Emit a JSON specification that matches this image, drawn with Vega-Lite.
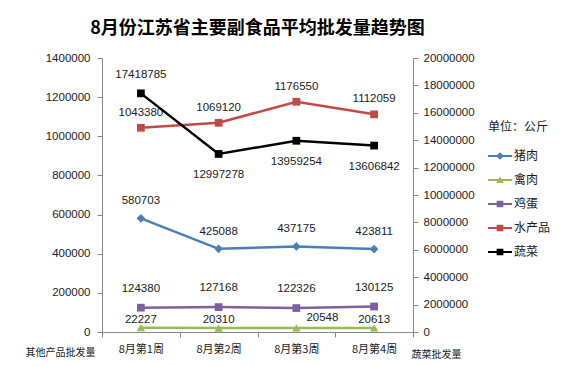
{
  "$schema": "https://vega.github.io/schema/vega-lite/v6.json",
  "width": 311,
  "height": 274,
  "autosize": "none",
  "padding": {"left": 102, "top": 58, "right": 154, "bottom": 34},
  "background": "white",
  "title": {"text": "8月份江苏省主要副食品平均批发量趋势图", "font": "Noto Sans CJK SC", "fontSize": 18, "fontWeight": "bold", "color": "#000000", "anchor": "middle", "offset": 14},
  "datasets": {
    "d": [
      {"week": "8月第1周", "series": "猪肉", "value": 580703},
      {"week": "8月第2周", "series": "猪肉", "value": 425088},
      {"week": "8月第3周", "series": "猪肉", "value": 437175},
      {"week": "8月第4周", "series": "猪肉", "value": 423811},
      {"week": "8月第1周", "series": "禽肉", "value": 22227},
      {"week": "8月第2周", "series": "禽肉", "value": 20310},
      {"week": "8月第3周", "series": "禽肉", "value": 20548},
      {"week": "8月第4周", "series": "禽肉", "value": 20613},
      {"week": "8月第1周", "series": "鸡蛋", "value": 124380},
      {"week": "8月第2周", "series": "鸡蛋", "value": 127168},
      {"week": "8月第3周", "series": "鸡蛋", "value": 122326},
      {"week": "8月第4周", "series": "鸡蛋", "value": 130125},
      {"week": "8月第1周", "series": "水产品", "value": 1043380},
      {"week": "8月第2周", "series": "水产品", "value": 1069120},
      {"week": "8月第3周", "series": "水产品", "value": 1176550},
      {"week": "8月第4周", "series": "水产品", "value": 1112059},
      {"week": "8月第1周", "series": "蔬菜", "value": 17418785},
      {"week": "8月第2周", "series": "蔬菜", "value": 12997278},
      {"week": "8月第3周", "series": "蔬菜", "value": 13959254},
      {"week": "8月第4周", "series": "蔬菜", "value": 13606842}
    ]
  },
  "data": {"name": "d"},
  "config": {
    "view": {"stroke": null},
    "axis": {"grid": false, "domainColor": "#868686", "tickColor": "#868686", "domainWidth": 1, "tickSize": 5, "labelFont": "Liberation Sans", "labelFontSize": 11.5, "labelColor": "#1a1a1a", "titleFont": "Noto Sans CJK SC", "titleFontSize": 10, "titleFontWeight": "normal", "titleColor": "#1a1a1a"},
    "legend": {"orient": "none", "legendX": 386, "legendY": 64, "symbolSize": 576, "symbolOpacity": 1, "symbolStrokeWidth": 0,
               "labelFont": "Noto Sans CJK SC", "labelFontSize": 12, "labelColor": "#1a1a1a", "labelOffset": 2,
               "titleFont": "Noto Sans CJK SC", "titleFontSize": 12, "titleFontWeight": "normal", "titleColor": "#1a1a1a", "titlePadding": 10, "rowPadding": 6},
    "text": {"font": "Liberation Sans", "fontSize": 11.5, "color": "#1a1a1a", "baseline": "middle", "align": "center"}
  },
  "layer": [
    {
      "transform": [{"filter": "datum.series !== '蔬菜'"}],
      "encoding": {
        "x": {"field": "week", "type": "nominal", "sort": null, "scale": {"type": "band", "paddingInner": 0, "paddingOuter": 0},
              "axis": {"title": null, "labelAngle": 0, "tickBand": "extent", "labelPadding": 6, "labelFont": "Noto Sans CJK SC", "labelFontSize": 11}},
        "y": {"field": "value", "type": "quantitative", "scale": {"domain": [0, 1400000], "nice": false},
              "axis": {"values": [0, 200000, 400000, 600000, 800000, 1000000, 1200000, 1400000], "format": "d", "labelPadding": 7,
                       "title": "其他产品批发量", "titleAngle": 0, "titleX": -42, "titleY": 294, "titleAlign": "center", "titleBaseline": "middle"}},
        "color": {"field": "series", "type": "nominal", "title": "单位：公斤",
                  "scale": {"domain": ["猪肉", "禽肉", "鸡蛋", "水产品", "蔬菜"], "range": ["#4a7ebb", "#98b954", "#7d60a0", "#be4b48", "#000000"]}}
      },
      "layer": [
        {"mark": {"type": "line", "strokeWidth": 2.5}},
        {"transform": [{"filter": "datum.series === '猪肉'"}], "mark": {"type": "point", "shape": "diamond", "filled": true, "opacity": 1, "size": 75}},
        {"transform": [{"filter": "datum.series === '禽肉'"}], "mark": {"type": "point", "shape": "triangle-up", "filled": true, "opacity": 1, "size": 70}},
        {"transform": [{"filter": "datum.series === '鸡蛋' || datum.series === '水产品'"}], "mark": {"type": "point", "shape": "square", "filled": true, "opacity": 1, "size": 60}},
        {"transform": [{"filter": "datum.series === '猪肉'"}], "mark": {"type": "text", "dy": -17}, "encoding": {"text": {"field": "value", "type": "quantitative", "format": "d"}, "color": {"value": "#1a1a1a"}}},
        {"transform": [{"filter": "datum.series === '水产品'"}], "mark": {"type": "text", "dy": -15}, "encoding": {"text": {"field": "value", "type": "quantitative", "format": "d"}, "color": {"value": "#1a1a1a"}}},
        {"transform": [{"filter": "datum.series === '鸡蛋'"}], "mark": {"type": "text", "dy": -19}, "encoding": {"text": {"field": "value", "type": "quantitative", "format": "d"}, "color": {"value": "#1a1a1a"}}},
        {"transform": [{"filter": "datum.series === '禽肉' && datum.week !== '8月第3周'"}], "mark": {"type": "text", "dy": -8}, "encoding": {"text": {"field": "value", "type": "quantitative", "format": "d"}, "color": {"value": "#1a1a1a"}}},
        {"transform": [{"filter": "datum.series === '禽肉' && datum.week === '8月第3周'"}], "mark": {"type": "text", "dy": -10, "dx": 26}, "encoding": {"text": {"field": "value", "type": "quantitative", "format": "d"}, "color": {"value": "#1a1a1a"}}}
      ]
    },
    {
      "transform": [{"filter": "datum.series === '蔬菜'"}],
      "encoding": {
        "x": {"field": "week", "type": "nominal", "sort": null},
        "y": {"field": "value", "type": "quantitative", "scale": {"domain": [0, 20000000], "nice": false},
              "axis": {"orient": "right", "values": [0, 2000000, 4000000, 6000000, 8000000, 10000000, 12000000, 14000000, 16000000, 18000000, 20000000], "format": "d", "labelPadding": 5,
                       "title": "蔬菜批发量", "titleAngle": 0, "titleX": 23, "titleY": 296, "titleAlign": "center", "titleBaseline": "middle"}},
        "color": {"field": "series", "type": "nominal", "title": "单位：公斤"}
      },
      "layer": [
        {"mark": {"type": "line", "strokeWidth": 2.5}},
        {"mark": {"type": "point", "shape": "square", "filled": true, "opacity": 1, "size": 60}},
        {"transform": [{"filter": "datum.week === '8月第1周'"}], "mark": {"type": "text", "dy": -18}, "encoding": {"text": {"field": "value", "type": "quantitative", "format": "d"}, "color": {"value": "#1a1a1a"}}},
        {"transform": [{"filter": "datum.week !== '8月第1周'"}], "mark": {"type": "text", "dy": 21}, "encoding": {"text": {"field": "value", "type": "quantitative", "format": "d"}, "color": {"value": "#1a1a1a"}}}
      ]
    },
    {
      "mark": {"type": "point", "filled": true, "opacity": 0, "size": 576},
      "encoding": {
        "color": {"field": "series", "type": "nominal", "title": "单位：公斤"},
        "shape": {"field": "series", "type": "nominal", "title": "单位：公斤",
                  "scale": {"domain": ["猪肉", "禽肉", "鸡蛋", "水产品", "蔬菜"],
                            "range": [
                              "M-1,-0.09H1V0.09H-1Z M0,-0.32L0.32,0L0,0.32L-0.32,0Z",
                              "M-1,-0.09H1V0.09H-1Z M0,-0.3L0.32,0.26L-0.32,0.26Z",
                              "M-1,-0.09H1V0.09H-1Z M-0.28,-0.28H0.28V0.28H-0.28Z",
                              "M-1,-0.09H1V0.09H-1Z M-0.28,-0.28H0.28V0.28H-0.28Z",
                              "M-1,-0.09H1V0.09H-1Z M-0.28,-0.28H0.28V0.28H-0.28Z"
                            ]}}
      }
    }
  ],
  "resolve": {"scale": {"y": "independent"}}
}
